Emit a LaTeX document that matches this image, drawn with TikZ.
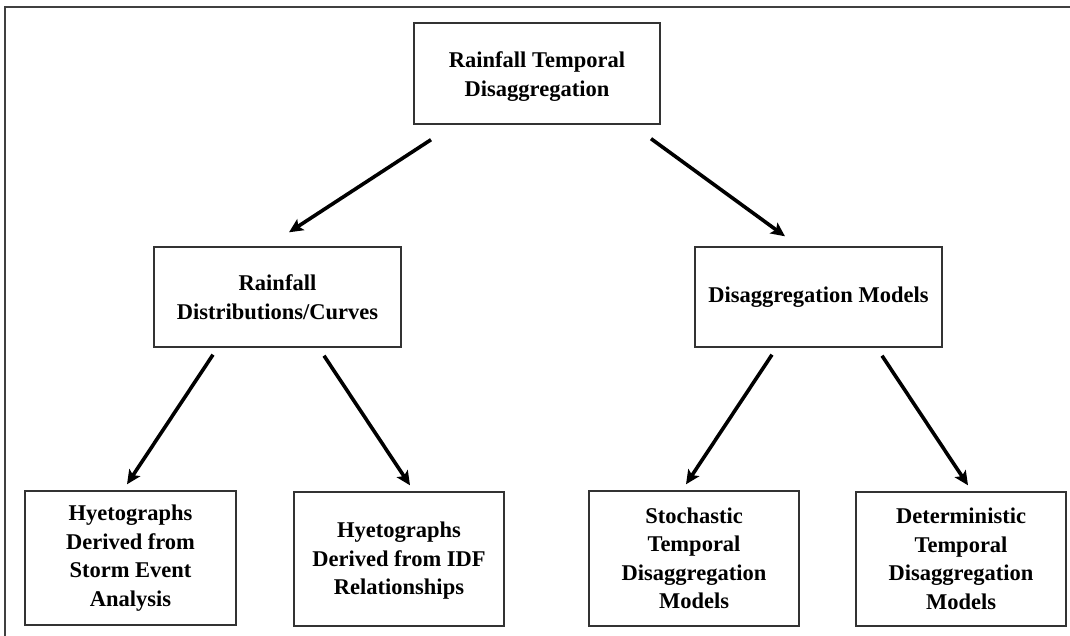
\documentclass[tikz,border=0pt]{standalone}
\usepackage{fontspec}
\setmainfont{Liberation Serif}
\usetikzlibrary{arrows.meta}
\begin{document}
\begin{tikzpicture}[x=1pt,y=-1pt,
  box/.style={draw=black!80,line width=1.4pt,rectangle,align=center,inner sep=0pt,
    font=\fontsize{22.5}{28.5}\selectfont\bfseries},
  arr/.style={line width=3.6pt,-{Stealth[length=14pt,width=13pt,inset=3pt]}}]
\useasboundingbox (0,0) rectangle (1070,635);
\draw[black!75,line width=1.4pt] (5,640) -- (5,7) -- (1075,7);
\node[box,minimum width=246pt,minimum height=101pt] (top) at (537,73.5)
  {\rule{0pt}{22pt}Rainfall Temporal\\Disaggregation};
\node[box,minimum width=247pt,minimum height=100pt] (ml) at (277.5,297)
  {Rainfall\\Distributions/Curves};
\node[box,minimum width=247pt,minimum height=100pt] (mr) at (818.5,297)
  {Disaggregation Models};
\node[box,minimum width=211pt,minimum height=134pt] (b1) at (130.5,558)
  {Hyetographs\\Derived from\\Storm Event\\Analysis};
\node[box,minimum width=210pt,minimum height=134pt] (b2) at (399,559)
  {\rule{0pt}{19pt}Hyetographs\\Derived from IDF\\Relationships};
\node[box,minimum width=210pt,minimum height=135pt] (b3) at (694,558.5)
  {Stochastic\\Temporal\\Disaggregation\\Models};
\node[box,minimum width=210pt,minimum height=134pt] (b4) at (961,559)
  {Deterministic\\Temporal\\Disaggregation\\Models};
\draw[arr] ([xshift=-106pt,yshift=-15pt]top.south) -- ([xshift=11.5pt,yshift=14pt]ml.north);
\draw[arr] ([xshift=114pt,yshift=-14pt]top.south) -- ([xshift=-33.5pt,yshift=10pt]mr.north);
\draw[arr] ([xshift=-64.5pt,yshift=-7pt]ml.south) -- ([xshift=-3.5pt,yshift=6pt]b1.north);
\draw[arr] ([xshift=46.5pt,yshift=-8pt]ml.south) -- ([xshift=11pt,yshift=6pt]b2.north);
\draw[arr] ([xshift=-46.5pt,yshift=-7pt]mr.south) -- ([xshift=-8pt,yshift=6pt]b3.north);
\draw[arr] ([xshift=63.5pt,yshift=-8pt]mr.south) -- ([xshift=7pt,yshift=6pt]b4.north);
\end{tikzpicture}
\end{document}
